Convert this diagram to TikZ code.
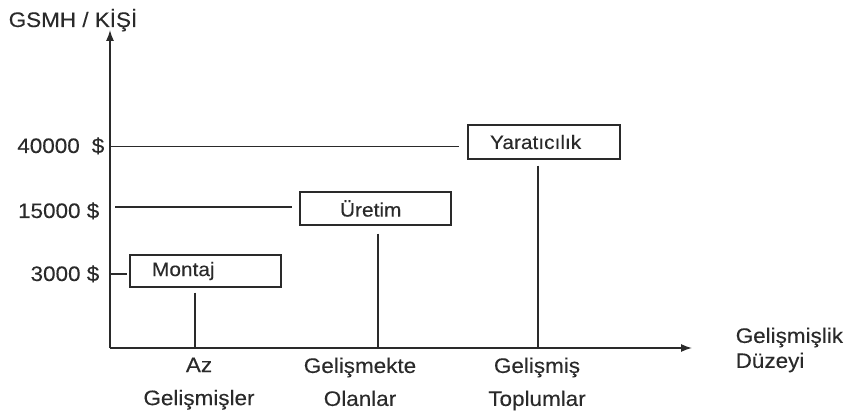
\documentclass[tikz,border=0pt]{standalone}
\usepackage{fontspec}
\setmainfont{Liberation Sans}[FakeStretch=1.07, FakeBold=0.2]
\usetikzlibrary{arrows.meta}
\definecolor{ink}{HTML}{2A2A2A}

\begin{document}
\begin{tikzpicture}[x=1pt, y=-1pt, ink, line width=1.4pt,
  lbl/.style={font=\fontsize{21}{25}\selectfont, text=ink, inner sep=0pt},
  cat/.style={lbl, align=center, anchor=north, font=\fontsize{21}{33}\selectfont},
  box/.style={draw, lbl, font=\fontsize{19.5}{23}\selectfont, inner ysep=0pt, align=left},
  axis/.style={-{Latex[length=11pt,width=8pt]}}]
  \useasboundingbox (0,0) rectangle (849,414);

  % Axes
  \coordinate (O)    at (110,348);
  \coordinate (ytop) at (110,30);
  \coordinate (xend) at (692,348);
  \draw[axis] (O) -- (ytop);
  \draw[axis] (O) -- (xend);
  \node[lbl, anchor=base west] (yname) at (8,27) {GSMH / KİŞİ};
  \node[lbl, anchor=north west, align=left] (xname) at (735,327) {Gelişmişlik\\Düzeyi};

  % Income levels
  \node[lbl, anchor=base east] (l40) at (105,153) {40000\hspace{12pt}\$};
  \node[lbl, anchor=base east] (l15) at (100,218) {15000 \$};
  \node[lbl, anchor=base east] (l3)  at (100,281) {3000 \$};
  \coordinate (y40) at (110,146.5);
  \coordinate (y15) at (110,207);
  \coordinate (y3)  at (110,274);

  % Stages
  \node[box, inner xsep=22pt, text width=107pt, minimum height=32pt] (montaj) at (205.5,271)   {Montaj};
  \node[box, inner xsep=40pt, text width=71pt,  minimum height=33pt] (uretim) at (375.5,208.5) {Üretim};
  \node[box, inner xsep=22pt, text width=108pt, minimum height=34pt] (yarat)  at (544,142)     {Yaratıcılık};

  % Level lines
  \draw[shorten >=8pt] (y40) -- (y40 -| yarat.west);
  \draw[shorten <=5pt, shorten >=7pt] (y15) -- (y15 -| uretim.west);
  \draw[shorten >=2pt] (y3) -- (y3 -| montaj.west);

  % Development groups
  \coordinate (xa) at (195,348);
  \coordinate (xb) at (378,348);
  \coordinate (xc) at (538,348);
  \draw[shorten <=5pt] (xa |- montaj.south) -- (xa);
  \draw[shorten <=8pt] (xb |- uretim.south) -- (xb);
  \draw[shorten <=6pt] (xc |- yarat.south) -- (xc);
  \node[cat] (az)   at (199,357) {Az\\Gelişmişler};
  \node[cat] (gmk)  at (360,357) {Gelişmekte\\Olanlar};
  \node[cat] (gms)  at (537,357) {Gelişmiş\\Toplumlar};
\end{tikzpicture}
\end{document}
